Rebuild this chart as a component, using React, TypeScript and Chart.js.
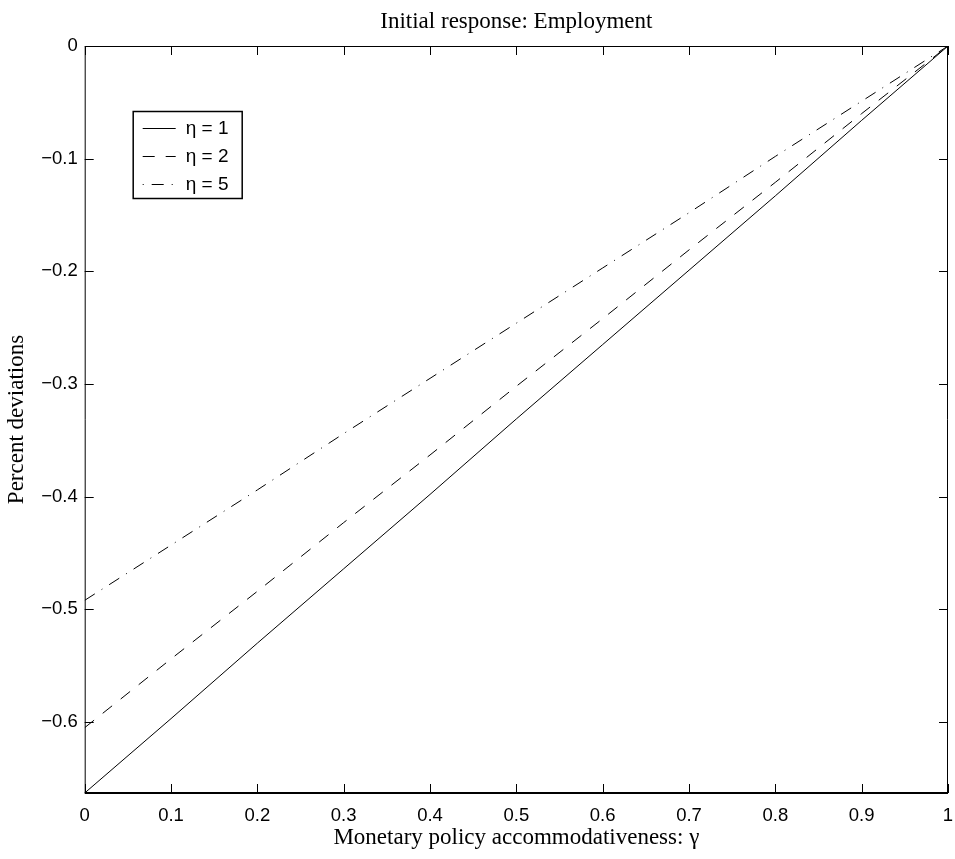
import { useEffect, useRef } from "react"
import { Chart, registerables } from "chart.js"

Chart.register(...registerables)

// valores
const gamma = [0, 0.1, 0.2, 0.3, 0.4, 0.5, 0.6, 0.7, 0.8, 0.9, 1]
const eta1 = [-0.663, -0.597, -0.53, -0.464, -0.398, -0.331, -0.265, -0.199, -0.133, -0.066, 0]
const eta2 = [-0.605, -0.544, -0.484, -0.423, -0.363, -0.302, -0.242, -0.181, -0.121, -0.06, 0]
const eta5 = [-0.492, -0.443, -0.394, -0.344, -0.295, -0.246, -0.197, -0.148, -0.098, -0.049, 0]
const seriesLabels = ["η = 1", "η = 2", "η = 5"]

const xTicks = [0, 0.1, 0.2, 0.3, 0.4, 0.5, 0.6, 0.7, 0.8, 0.9, 1]
const yTicks = [0, -0.1, -0.2, -0.3, -0.4, -0.5, -0.6]
const yMin = -0.663

const sans = "'Liberation Sans', Arial, Helvetica, sans-serif"
const serif = "'Liberation Serif', 'Times New Roman', serif"

const fmt = (v: number) => (v === 0 ? "0" : String(v).replace("-", "\u2212"))

// moldura com marcas internas nos quatro lados (estilo MATLAB)
const framePlugin = {
  id: "frame",
  afterDatasetsDraw(chart: any) {
    const { ctx, chartArea: a, scales } = chart
    const x = scales.x
    const y = scales.y
    const len = 9
    ctx.save()
    ctx.strokeStyle = "#000"
    ctx.lineWidth = 1
    ctx.setLineDash([])
    ctx.beginPath()
    xTicks.forEach((v) => {
      const px = Math.round(x.getPixelForValue(v)) + 0.5
      ctx.moveTo(px, a.bottom)
      ctx.lineTo(px, a.bottom - len)
      ctx.moveTo(px, a.top)
      ctx.lineTo(px, a.top + len)
    })
    yTicks.forEach((v) => {
      const py = Math.round(y.getPixelForValue(v)) + 0.5
      ctx.moveTo(a.left, py)
      ctx.lineTo(a.left + len, py)
      ctx.moveTo(a.right, py)
      ctx.lineTo(a.right - len, py)
    })
    ctx.stroke()
    ctx.beginPath()
    ctx.moveTo(a.left + 0.5, a.bottom)
    ctx.lineTo(a.left + 0.5, a.top + 0.5)
    ctx.lineTo(a.right - 0.5, a.top + 0.5)
    ctx.lineTo(a.right - 0.5, a.bottom)
    ctx.stroke()
    ctx.lineWidth = 2
    ctx.beginPath()
    ctx.moveTo(a.left, a.bottom)
    ctx.lineTo(a.right, a.bottom)
    ctx.stroke()
    ctx.restore()
  },
}

// legenda desenhada dentro da área do gráfico
const legendPlugin = {
  id: "boxLegend",
  afterDraw(chart: any) {
    const { ctx, chartArea: a } = chart
    const left = a.left + 48
    const top = a.top + 65
    const w = 109
    const h = 87
    ctx.save()
    ctx.fillStyle = "#fff"
    ctx.fillRect(left, top, w, h)
    ctx.strokeStyle = "#000"
    ctx.lineWidth = 1.5
    ctx.setLineDash([])
    ctx.strokeRect(left + 0.5, top + 0.5, w, h)
    ctx.font = `19px ${sans}`
    ctx.fillStyle = "#000"
    ctx.textBaseline = "middle"
    chart.data.datasets.forEach((ds: any, i: number) => {
      const cy = top + 17.5 + i * 28
      ctx.lineWidth = 1
      ctx.setLineDash(ds.borderDash || [])
      ctx.lineDashOffset = i === 2 ? 20 : 0
      ctx.beginPath()
      ctx.moveTo(left + 10, cy)
      ctx.lineTo(left + 43, cy)
      ctx.stroke()
      ctx.setLineDash([])
      ctx.fillText(ds.label, left + 53, cy)
    })
    ctx.restore()
  },
}

function EmploymentChart() {
  const canvasRef = useRef<HTMLCanvasElement>(null)
  const chartRef = useRef<Chart | null>(null)

  useEffect(() => {
    if (!canvasRef.current) return
    if (chartRef.current) chartRef.current.destroy()
    const ctx = canvasRef.current.getContext("2d")
    if (!ctx) return

    const toPoints = (ys: number[]) => gamma.map((g, i) => ({ x: g, y: ys[i] }))

    chartRef.current = new Chart(ctx, {
      type: "line",
      data: {
        datasets: [
          { label: seriesLabels[0], data: toPoints(eta1), borderColor: "#000", borderWidth: 1, pointRadius: 0, tension: 0 },
          { label: seriesLabels[1], data: toPoints(eta2), borderColor: "#000", borderWidth: 1, pointRadius: 0, tension: 0, borderDash: [12, 11] },
          { label: seriesLabels[2], data: toPoints(eta5), borderColor: "#000", borderWidth: 1, pointRadius: 0, tension: 0, borderDash: [12, 8, 1, 8] },
        ],
      },
      options: {
        animation: false,
        responsive: true,
        maintainAspectRatio: false,
        layout: { padding: { left: 0, right: 7, top: 0, bottom: 0 } },
        plugins: {
          legend: { display: false },
          tooltip: { enabled: false },
          title: {
            display: true,
            fullSize: false,
            text: "Initial response: Employment",
            color: "#000",
            font: { family: serif, size: 23, weight: "normal" },
            padding: { top: 8, bottom: 10.4 },
          },
        },
        scales: {
          x: {
            type: "linear",
            min: 0,
            max: 1,
            afterBuildTicks: (s: any) => {
              s.ticks = xTicks.map((v) => ({ value: v }))
            },
            afterFit: (s: any) => {
              s.height = 66
              s.paddingLeft = 0
              s.paddingRight = 0
            },
            grid: { display: false, drawTicks: false },
            border: { display: false },
            ticks: {
              padding: 12,
              color: "#000",
              maxRotation: 0,
              autoSkip: false,
              font: { family: sans, size: 18.5 },
              callback: (v: any) => fmt(Number(v)),
            },
            title: {
              display: true,
              text: "Monetary policy accommodativeness: γ",
              color: "#000",
              font: { family: serif, size: 23 },
              padding: { top: 0, bottom: 7 },
            },
          },
          y: {
            type: "linear",
            min: yMin,
            max: 0,
            afterBuildTicks: (s: any) => {
              s.ticks = yTicks.map((v) => ({ value: v }))
            },
            afterFit: (s: any) => {
              s.width = 84.7
              s.paddingTop = 0
              s.paddingBottom = 0
            },
            grid: { display: false, drawTicks: false },
            border: { display: false },
            ticks: {
              padding: 7,
              color: "#000",
              autoSkip: false,
              font: { family: sans, size: 18.5 },
              callback: (v: any) => fmt(Number(v)),
            },
            title: {
              display: true,
              text: "Percent deviations",
              color: "#000",
              font: { family: serif, size: 23 },
              padding: { top: 3.4, bottom: 0 },
            },
          },
        },
      },
      plugins: [framePlugin, legendPlugin],
    })

    return () => {
      if (chartRef.current) {
        chartRef.current.destroy()
        chartRef.current = null
      }
    }
  }, [])

  return <canvas ref={canvasRef} />
}

export default function App() {
  return (
    <div style={{ position: "absolute", left: 0, top: 0, width: 955, height: 859, background: "#fff" }}>
      <EmploymentChart />
    </div>
  )
}
